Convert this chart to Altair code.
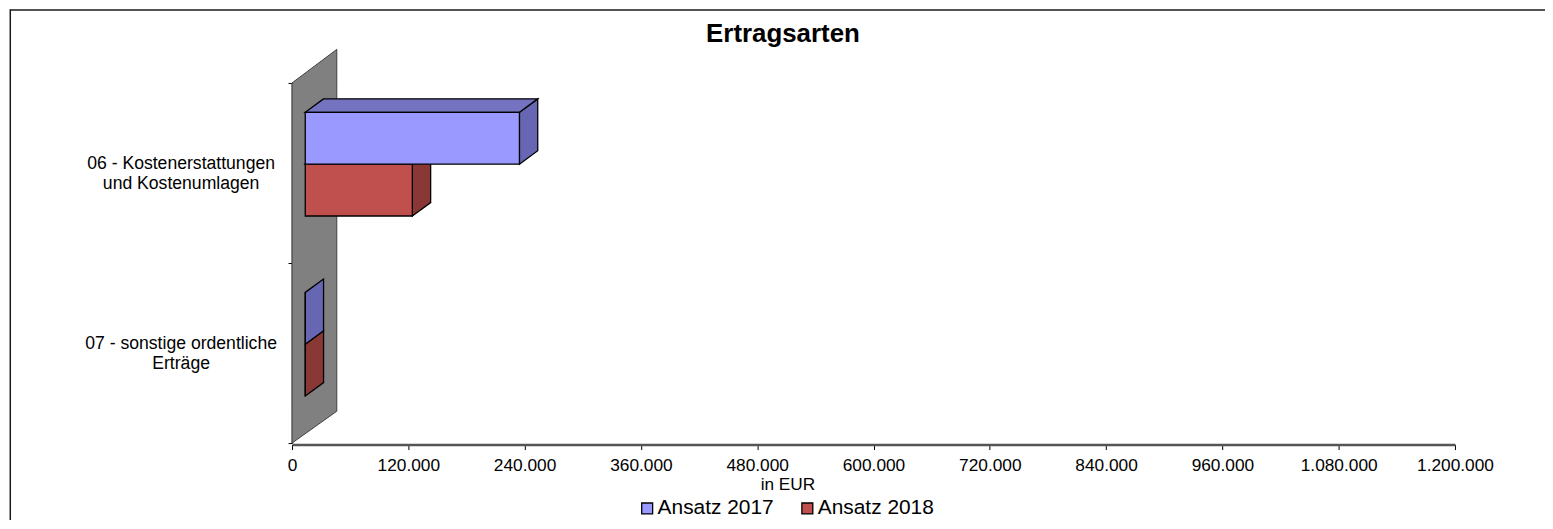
import altair as alt
import pandas as pd

categories = ["06 - Kostenerstattungen|und Kostenumlagen", "07 - sonstige ordentliche|Erträge"]
series = ["Ansatz 2017", "Ansatz 2018"]
values_2017 = [221000, 0]
values_2018 = [110500, 0]
x_ticks = [0, 120000, 240000, 360000, 480000, 600000, 720000, 840000, 960000, 1080000, 1200000]

FRONT = {"Ansatz 2017": "#9999FF", "Ansatz 2018": "#C0504D"}
TOP = {"Ansatz 2017": "#7373BF", "Ansatz 2018": "#903C3A"}
SIDE = {"Ansatz 2017": "#6666B3", "Ansatz 2018": "#8A3836"}
WALL = "#808080"
FONT = "Liberation Sans"

XMAX = 1200000
W, H = 1169, 362
EUR_PX = XMAX / W
UNIT_PX = 2 / H

# 3-D projection constants of the reference
BAR_BASE = 13.3 * EUR_PX
DEPTH_X = 18.4 * EUR_PX
DEPTH_Y = 13.5 * UNIT_PX
WALL_X = 45 * EUR_PX
WALL_Y_TOP = 33.7 * UNIT_PX
WALL_Y_BOTTOM = 32 * UNIT_PX
BAR_TOP = 0.163
BAR_H = 0.288

vals = {"Ansatz 2017": values_2017, "Ansatz 2018": values_2018}

fronts, sides, tops = [], [], []
# the later series lies behind the earlier one, so it is drawn first
for s_i, s in reversed(list(enumerate(series))):
    for c_i in range(len(categories)):
        x0 = BAR_BASE
        x1 = BAR_BASE + vals[s][c_i]
        yt = c_i + BAR_TOP + s_i * BAR_H
        yb = yt + BAR_H
        fid = f"f{s_i}_{c_i}"
        fronts.append(dict(series=s, x=x0, x2=x1, y=yt, y2=yb))
        sides.append(dict(id=fid, fill=SIDE[s], x=x1, y=yt, y2=yb))
        sides.append(dict(id=fid, fill=SIDE[s], x=x1 + DEPTH_X, y=yt - DEPTH_Y, y2=yb - DEPTH_Y))
        if vals[s][c_i] > 0:
            tops.append(dict(id=fid, fill=TOP[s], y=yt, x=x0, x2=x1))
            tops.append(dict(id=fid, fill=TOP[s], y=yt - DEPTH_Y, x=x0 + DEPTH_X, x2=x1 + DEPTH_X))

wall = pd.DataFrame([
    dict(x=0, y=0, y2=2),
    dict(x=WALL_X, y=-WALL_Y_TOP, y2=2 - WALL_Y_BOTTOM),
])

xscale = alt.Scale(domain=[0, XMAX], nice=False, zero=False)
yq = alt.Scale(domain=[2, 0], nice=False, zero=False)

x_axis = alt.Axis(
    values=x_ticks, labelExpr="replace(format(datum.value, ','), regexp(',', 'g'), '.')",
    grid=False, title="in EUR", titleFont=FONT, titleFontSize=17.3,
    titleFontWeight="normal", titleColor="#000000", titleX=498, titleY=45, titleBaseline="alphabetic",
    labelFont=FONT, labelFontSize=17.4, labelColor="#000000", labelFlush=False,
    labelPadding=7, tickSize=5, tickColor="#000000", domainColor="#555555", domainWidth=2.5,
    offset=1.5, labelOverlap=False,
)

X = alt.X("x:Q", scale=xscale, axis=x_axis)

axis_layer = alt.Chart(pd.DataFrame({"cat": categories, "x": [0, 0]})).mark_bar(opacity=0).encode(
    x=X,
    y=alt.Y(
        "cat:N", sort=categories, title=None,
        scale=alt.Scale(paddingInner=0, paddingOuter=0),
        axis=alt.Axis(
            tickBand="extent", tickSize=4, tickColor="#000000", domainColor="#1A1A1A", domainWidth=1.5,
            labelExpr="split(datum.label, '|')", labelAlign="center", labelPadding=108,
            labelFont=FONT, labelFontSize=17.7, labelColor="#000000", labelOffset=-9.5,
            labelLimit=0, labelLineHeight=20, grid=False, labelOverlap=False,
        ),
    ),
)

wall_layer = alt.Chart(wall).mark_area(
    color=WALL, stroke="#3F3F3F", strokeWidth=1, clip=False, opacity=1
).encode(x=X, y=alt.Y("y:Q", scale=yq, axis=None), y2="y2:Q")

side_layer = alt.Chart(pd.DataFrame(sides)).mark_area(
    stroke="#000000", strokeWidth=1.3, clip=False, opacity=1
).encode(
    x=X, y=alt.Y("y:Q", scale=yq, axis=None), y2="y2:Q",
    fill=alt.Fill("fill:N", scale=None), detail="id:N",
)

top_layer = alt.Chart(pd.DataFrame(tops)).mark_area(
    orient="horizontal", stroke="#000000", strokeWidth=1.3, clip=False, opacity=1
).encode(
    y=alt.Y("y:Q", scale=yq, axis=None), x=X, x2="x2:Q",
    fill=alt.Fill("fill:N", scale=None), detail="id:N",
)

front_layer = alt.Chart(pd.DataFrame(fronts)).mark_rect(
    stroke="#000000", strokeWidth=1.3, clip=False
).encode(
    x=X, x2="x2:Q", y=alt.Y("y:Q", scale=yq, axis=None), y2="y2:Q",
    color=alt.Color(
        "series:N",
        scale=alt.Scale(domain=series, range=[FRONT[s] for s in series]),
        legend=alt.Legend(
            title=None, orient="none", legendX=346.5, legendY=417, direction="horizontal",
            symbolType="square", symbolSize=121, symbolStrokeColor="#000000", symbolStrokeWidth=1.3,
            labelFont=FONT, labelFontSize=21, labelColor="#000000", labelOffset=0,
            columnPadding=23, labelLimit=0,
        ),
    ),
)

# frame of the chart: only top and left edges are visible in the reference
frame_top = alt.Chart(pd.DataFrame({"a": [0]})).mark_rule(color="#1A1A1A", strokeWidth=1.5, clip=False).encode(
    x=alt.value(-283.2), x2=alt.value(1260), y=alt.value(-73.25)
)
frame_left = alt.Chart(pd.DataFrame({"a": [0]})).mark_rule(color="#1A1A1A", strokeWidth=1.5, clip=False).encode(
    x=alt.value(-283.2), y=alt.value(-74), y2=alt.value(440)
)

chart = alt.layer(
    frame_top, frame_left, wall_layer, axis_layer, side_layer, top_layer, front_layer
).resolve_scale(y="independent", color="independent").resolve_axis(y="independent").properties(
    width=W, height=H,
    padding={"left": 285.5, "top": 74, "right": 90.5, "bottom": 76},
    autosize=alt.AutoSizeParams(type="none"),
    title=alt.TitleParams(
        "Ertragsarten", font=FONT, fontSize=26, fontWeight="bold", color="#000000",
        anchor="middle", dx=-91, offset=-39,
    ),
).configure_view(stroke=None)

chart.save("out.html", embed_options={"renderer": "svg", "actions": False})
